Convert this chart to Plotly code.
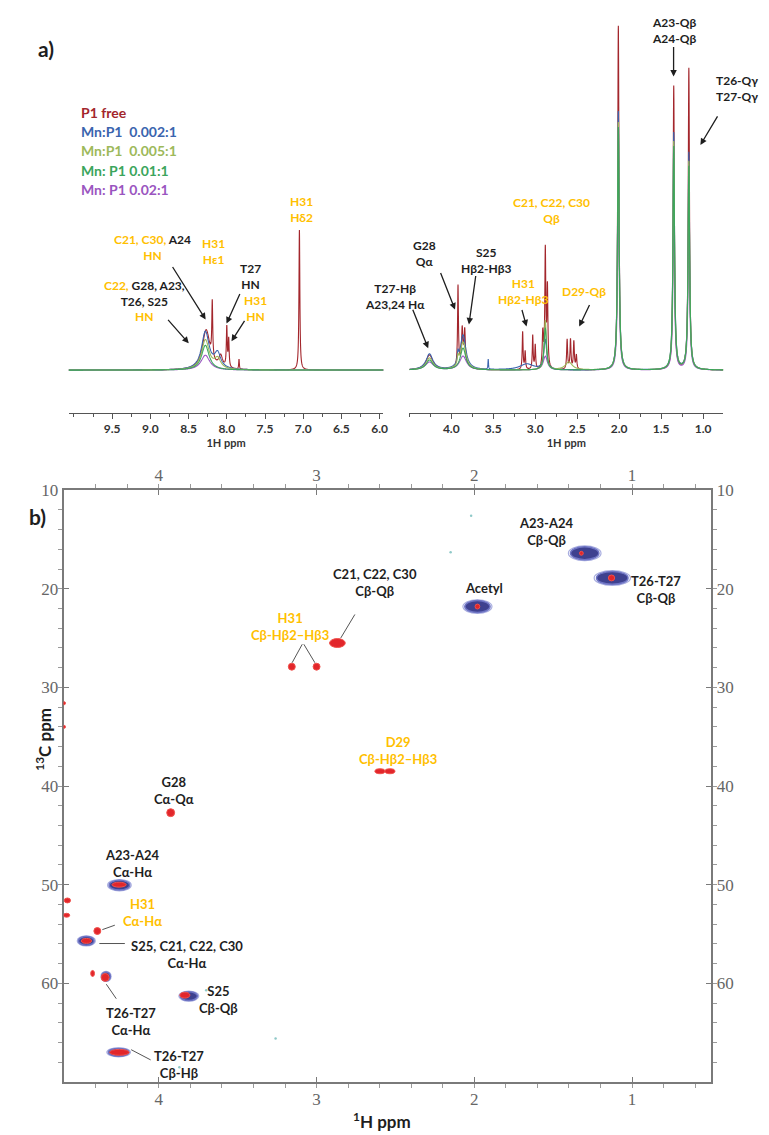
import numpy as np
import plotly.graph_objects as go

W, H = 769, 1135

# ---------------- 1D spectra: peak tables (ppm, height, half width) ----------------
series_names = ["P1 free", "Mn:P1  0.002:1", "Mn:P1  0.005:1", "Mn: P1 0.01:1", "Mn: P1 0.02:1"]
series_colors = ["#A3262C", "#3A64AE", "#9DB95A", "#3BA55C", "#9A55C0"]

free_ppm = [8.27, 8.19, 8.08, 8.00, 7.975, 7.84, 7.05,
            4.26, 3.92, 3.87, 3.84, 3.86, 3.15, 3.12, 3.03, 3.00,
            2.91, 2.88, 2.855, 2.62, 2.58, 2.54, 2.51, 2.01, 1.35, 1.17]
free_hgt = [40, 56, 12, 40, 28, 10, 141,
            15, 80, 30, 30, 12, 38, 18, 34, 24,
            35, 118, 80, 30, 30, 28, 14, 347, 286, 304]
free_wid = [0.06, 0.007, 0.03, 0.007, 0.007, 0.005, 0.007,
            0.05, 0.006, 0.008, 0.008, 0.05, 0.006, 0.006, 0.006, 0.006,
            0.008, 0.007, 0.007, 0.007, 0.007, 0.007, 0.007, 0.009, 0.009, 0.009]

mn002_ppm = [8.28, 8.12, 4.26, 3.92, 3.86, 3.56, 3.10, 2.88, 2.01, 1.35, 1.17]
mn002_hgt = [38, 15, 16, 10, 35, 10, 6, 30, 261, 239, 219]
mn002_wid = [0.06, 0.05, 0.05, 0.01, 0.04, 0.004, 0.1, 0.02, 0.011, 0.011, 0.011]

mn005_ppm = [8.28, 8.12, 4.26, 3.92, 3.86, 2.88, 2.60, 2.01, 1.35, 1.17]
mn005_hgt = [30, 10, 12, 8, 28, 50, 8, 250, 230, 210]
mn005_wid = [0.06, 0.05, 0.05, 0.01, 0.04, 0.015, 0.05, 0.011, 0.011, 0.011]

mn01_ppm = [8.28, 4.26, 3.86, 2.88, 2.01, 1.35, 1.17]
mn01_hgt = [25, 10, 22, 42, 245, 225, 205]
mn01_wid = [0.06, 0.05, 0.04, 0.018, 0.011, 0.011, 0.011]

mn02_ppm = [8.28, 4.26, 3.86, 2.88, 2.01, 1.35, 1.17]
mn02_hgt = [15, 8, 14, 14, 190, 170, 160]
mn02_wid = [0.07, 0.06, 0.05, 0.03, 0.011, 0.011, 0.011]

peak_tables = [
    (free_ppm, free_hgt, free_wid),
    (mn002_ppm, mn002_hgt, mn002_wid),
    (mn005_ppm, mn005_hgt, mn005_wid),
    (mn01_ppm, mn01_hgt, mn01_wid),
    (mn02_ppm, mn02_hgt, mn02_wid),
]
draw_order = [0, 4, 1, 2, 3]

left_ticks = [9.5, 9.0, 8.5, 8.0, 7.5, 7.0, 6.5, 6.0]
right_ticks = [4.0, 3.5, 3.0, 2.5, 2.0, 1.5, 1.0]

# ---------------- 2D HSQC peaks (1H ppm, 13C ppm, half widths) ----------------
free_h = [1.321, 1.13, 1.98, 2.868, 3.157, 3.00, 2.598, 2.535, 3.925, 4.252,
          4.58, 4.585, 4.39, 4.459, 4.42, 4.34, 3.835, 4.25, 4.60, 4.60]
free_c = [16.4, 18.9, 21.8, 25.5, 27.9, 27.9, 38.5, 38.5, 42.7, 50.0,
          51.6, 53.1, 54.7, 55.7, 59.0, 59.4, 61.2, 67.0, 31.6, 34.0]
free_wh = [0.012, 0.02, 0.015, 0.05, 0.022, 0.022, 0.032, 0.032, 0.025, 0.045,
           0.02, 0.02, 0.022, 0.032, 0.012, 0.025, 0.032, 0.062, 0.008, 0.008]
free_wc = [0.2, 0.3, 0.25, 0.45, 0.35, 0.35, 0.25, 0.25, 0.4, 0.25,
           0.25, 0.2, 0.35, 0.25, 0.3, 0.4, 0.3, 0.3, 0.15, 0.15]

mn_h = [1.30, 1.125, 1.98, 4.25, 4.46, 4.335, 3.81, 4.255]
mn_c = [16.4, 18.9, 21.8, 50.05, 55.7, 59.3, 61.3, 67.0]
mn_wh = [0.09, 0.1, 0.08, 0.065, 0.05, 0.028, 0.055, 0.065]
mn_wc = [0.65, 0.65, 0.6, 0.5, 0.45, 0.45, 0.45, 0.4]

# faint noise specks in the 2D map (1H ppm, 13C ppm)
speck_h = [2.15, 2.02, 3.70, 3.87, 3.26]
speck_c = [16.3, 12.6, 60.7, 68.5, 65.6]

GOLD = "#FFC000"
INK = "#1E1E1E"
FONT = "Lato, 'Noto Sans', sans-serif"


def px(x):
    return x / W


def py(y):
    return 1 - y / H


def spectrum(grid, pos, hgt, wid):
    y = np.zeros_like(grid)
    for p, h, w in zip(pos, hgt, wid):
        y += h / (1 + ((grid - p) / w) ** 2)
    return y


fig = go.Figure()

grid_left = np.arange(5.95, 10.07, 0.001)
grid_right = np.arange(0.76, 4.50, 0.001)

for i in draw_order:
    for grid, xa in [(grid_left, "x"), (grid_right, "x2")]:
        fig.add_trace(go.Scatter(
            x=grid, y=spectrum(grid, *peak_tables[i]),
            xaxis=xa, yaxis="y",
            mode="lines", line=dict(color=series_colors[i], width=1.1, simplify=False),
            name=series_names[i], showlegend=False, hoverinfo="skip"
        ))

# dummy traces so the mirrored 2D axes get drawn
fig.add_trace(go.Scatter(x=speck_h, y=speck_c, xaxis="x3", yaxis="y3", mode="markers",
                         marker=dict(size=2.5, color="#8FC9C8"), showlegend=False, hoverinfo="skip"))
fig.add_trace(go.Scatter(x=[None], y=[None], xaxis="x4", yaxis="y4", showlegend=False))

shapes = []
# Mn-bound peaks: navy blobs with lighter contour rings
for h, c, wh, wc in zip(mn_h, mn_c, mn_wh, mn_wc):
    shapes.append(dict(type="circle", xref="x3", yref="y3",
                       x0=h - wh * 1.15, x1=h + wh * 1.15, y0=c - wc * 1.15, y1=c + wc * 1.15,
                       line=dict(color="#A9AEE0", width=1.2), fillcolor="rgba(0,0,0,0)"))
    shapes.append(dict(type="circle", xref="x3", yref="y3",
                       x0=h - wh, x1=h + wh, y0=c - wc, y1=c + wc,
                       line=dict(color="#6E74C4", width=1.5), fillcolor="#3E418F"))
# free peptide peaks: red blobs
for h, c, wh, wc in zip(free_h, free_c, free_wh, free_wc):
    shapes.append(dict(type="circle", xref="x3", yref="y3",
                       x0=h - wh, x1=h + wh, y0=c - wc, y1=c + wc,
                       line=dict(color="#F0504A", width=1), fillcolor="#E2262B"))

annotations = []


def label(x, y, text, color=INK, size=13, align="center", xanchor="center"):
    annotations.append(dict(x=px(x), y=py(y), xref="paper", yref="paper", text=text,
                            showarrow=False, align=align, xanchor=xanchor, yanchor="middle",
                            font=dict(family=FONT, size=size, color=color, weight="bold")))


def arrow(x0, y0, x1, y1, head=2, color=INK, width=1.3):
    annotations.append(dict(x=px(x1), y=py(y1), xref="paper", yref="paper", text="",
                            showarrow=True, ax=x0 - x1, ay=y0 - y1, axref="pixel", ayref="pixel",
                            arrowhead=head, arrowsize=1, arrowwidth=width, arrowcolor=color,
                            standoff=0, startstandoff=0))


def g(t):
    return f"<span style='color:{GOLD}'>{t}</span>"


# panel letters
label(46, 40, "a)", size=21)
label(38, 512, "b)", size=21)

# legend of 1D spectra
for i, (name, color) in enumerate(zip(series_names, series_colors)):
    label(80, 104 + i * 19.5, name, color=color, size=14, align="left", xanchor="left")

# 1D annotations
label(153, 240, g("C21, C30,") + " A24<br>" + g("HN"), size=12)
label(145, 294, g("C22,") + " G28, A23,<br>T26, S25<br>" + g("HN"), size=12)
label(215, 244, "H31<br>Hε1", color=GOLD, size=12)
label(252, 270, "T27<br>HN", size=12)
label(257, 302, "H31<br>HN", color=GOLD, size=12)
label(303, 202, "H31<br>Hδ2", color=GOLD, size=12)
label(427, 246, "G28<br>Qα", size=12)
label(490, 254, "S25<br>Hβ2-Hβ3", size=12)
label(398, 290, "T27-Hβ<br>A23,24 Hα", size=12)
label(527, 285, "H31<br>Hβ2-Hβ3", color=GOLD, size=12)
label(555, 203, "C21, C22, C30<br>Qβ", color=GOLD, size=12)
label(588, 285, "D29-Qβ", color=GOLD, size=12)
label(678, 22, "A23-Qβ<br>A24-Qβ", size=12)
label(742, 80, "T26-Qγ<br>T27-Qγ", size=12)

arrow(173, 259, 207, 313)
arrow(168, 312, 190, 337)
arrow(242, 286, 228, 317)
arrow(247, 313, 233, 335)
arrow(443, 265, 458, 303)
arrow(479, 268, 472, 318)
arrow(415, 302, 431, 342)
arrow(525, 302, 530, 320)
arrow(594, 297, 583, 320)
arrow(678, 37, 678, 68)
arrow(723, 107, 705, 137)

# 2D annotations
label(550, 527, "A23-A24<br>Cβ-Qβ")
label(660, 585, "T26-T27<br>Cβ-Qβ")
label(487, 584, "Acetyl")
label(377, 578, "C21, C22, C30<br>Cβ-Qβ")
label(292, 622, "H31<br>Cβ-Hβ2–Hβ3", color=GOLD)
label(401, 747, "D29<br>Cβ-Hβ2–Hβ3", color=GOLD)
label(175, 788, "G28<br>Cα-Qα")
label(133, 861, "A23-A24<br>Cα-Hα")
label(143, 911, "H31<br>Cα-Hα", color=GOLD)
label(188, 953, "S25, C21, C22, C30<br>Cα-Hα")
label(132, 1021, "T26-T27<br>Cα-Hα")
label(220, 998, "S25<br>Cβ-Qβ")
label(180, 1064, "T26-T27<br>Cβ-Hβ")

lead = "#555555"
arrow(358, 609, 343, 634, head=0, color=lead, width=1)
arrow(305, 639, 294, 659, head=0, color=lead, width=1)
arrow(305, 639, 317, 659, head=0, color=lead, width=1)
arrow(117, 923, 103, 928, head=0, color=lead, width=1)
arrow(127, 942, 100, 942, head=0, color=lead, width=1)
arrow(118, 999, 107, 983, head=0, color=lead, width=1)
arrow(153, 1060, 132, 1049, head=0, color=lead, width=1)

# axis titles of the 2D map
label(385, 1120, "<sup>1</sup>H ppm", size=17)
annotations.append(dict(x=px(30), y=py(770), xref="paper", yref="paper",
                        text="<sup>13</sup>C ppm", showarrow=False, textangle=-90,
                        font=dict(family=FONT, size=17, color=INK, weight="bold")))

top_axis = dict(
    showgrid=False, zeroline=False, showline=True, linecolor="#555", linewidth=1.2,
    ticks="outside", ticklen=5, tickcolor="#555",
    minor=dict(dtick=0.25, ticks="outside", ticklen=3, tickcolor="#555"),
    tickfont=dict(family=FONT, size=12, color="#333", weight="bold"),
    tickformat=".1f",
    title=dict(text="1H ppm", standoff=0,
               font=dict(family=FONT, size=11, color="#333", weight="bold")),
)

serif = dict(family="'Liberation Serif', 'DejaVu Serif', serif", size=17, color="#666")
map_x = dict(range=[4.604, 0.497], showgrid=False, zeroline=False, showline=True,
             linecolor="#7A7A7A", linewidth=2, ticks="inside", ticklen=5, tickcolor="#7A7A7A",
             tickvals=[4, 3, 2, 1], tickfont=serif,
             minor=dict(dtick=0.2, ticks="outside", ticklen=4, tickcolor="#9A9A9A"))
map_y = dict(range=[70.05, 10], showgrid=False, zeroline=False, showline=True,
             linecolor="#7A7A7A", linewidth=2, ticks="inside", ticklen=5, tickcolor="#7A7A7A",
             tickvals=[10, 20, 30, 40, 50, 60], tickfont=serif,
             minor=dict(dtick=2, ticks="outside", ticklen=4, tickcolor="#9A9A9A"))

fig.update_layout(
    width=W, height=H, margin=dict(l=0, r=0, t=0, b=0),
    paper_bgcolor="white", plot_bgcolor="rgba(0,0,0,0)",
    showlegend=False,
    xaxis=dict(top_axis, domain=[px(69), px(386)], range=[10.07, 5.95],
               tickvals=left_ticks, anchor="y"),
    xaxis2=dict(top_axis, domain=[px(412), px(728)], range=[4.5, 0.76],
                tickvals=right_ticks, anchor="y"),
    yaxis=dict(domain=[py(407), py(10)], range=[-43, 354], visible=False, anchor="x"),
    xaxis3=dict(map_x, domain=[px(64), px(716)], anchor="y3", side="bottom"),
    yaxis3=dict(map_y, domain=[py(1082), py(485)], anchor="x3", side="left"),
    xaxis4=dict(map_x, overlaying="x3", anchor="y3", side="top", showline=True),
    yaxis4=dict(map_y, overlaying="y3", anchor="x3", side="right", showline=True),
    shapes=shapes,
    annotations=annotations,
)

reset_css = (
    "var s=document.createElement('style');"
    "s.innerHTML='html,body{margin:0;padding:0;overflow:hidden}';"
    "document.head.appendChild(s);"
)

fig.write_html("out.html", config={"displayModeBar": False}, post_script=reset_css)
